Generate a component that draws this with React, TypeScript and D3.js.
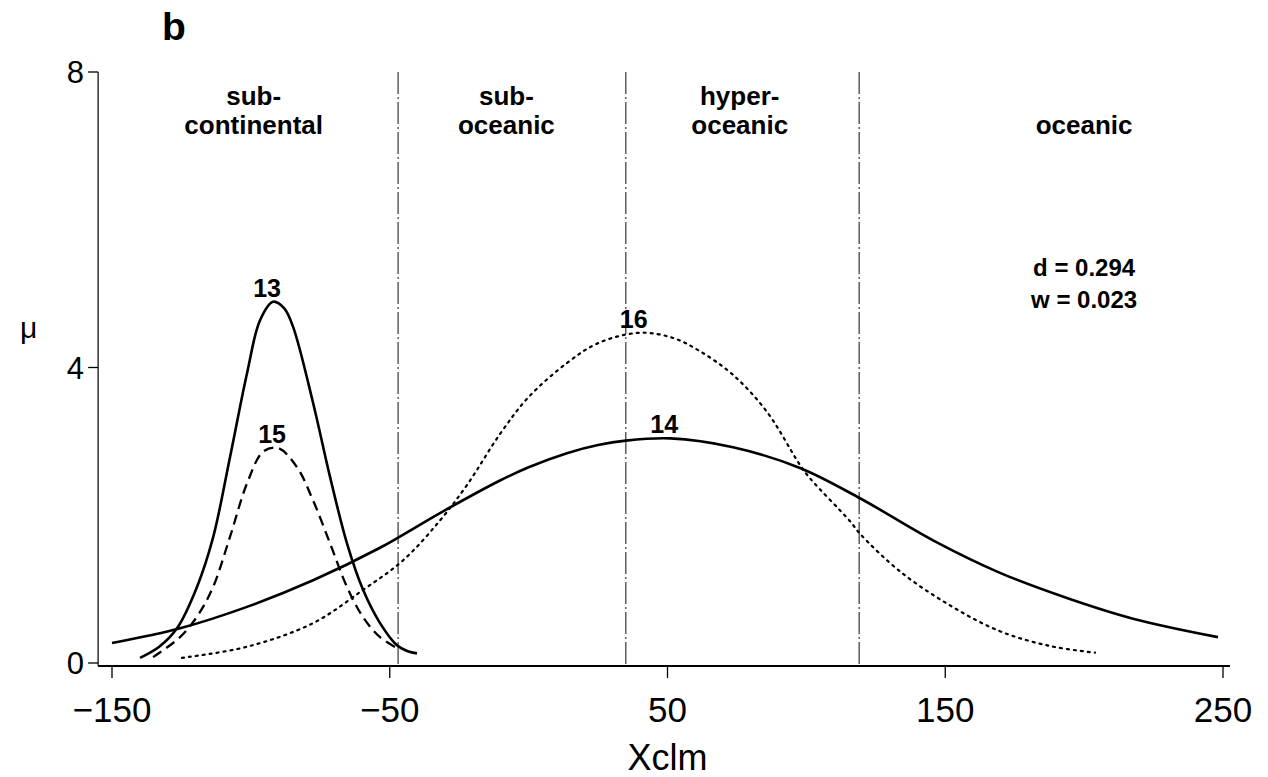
import { useEffect, useRef } from 'react';
import * as d3 from 'd3';

// readings from the figure (x = Xclm, y = mu)
const xTicks = [-150, -50, 50, 150, 250];
const yTicks = [0, 4, 8];

// zone boundaries (vertical dash-dot lines)
const zoneBounds = [-47, 35, 119];
const zoneTop = ['sub-', 'sub-', 'hyper-', ''];
const zoneBottom = ['continental', 'oceanic', 'oceanic', 'oceanic'];
const zoneCenters = [-99, -8, 76, 200];

const curve13 = [
  [-139.9, 0.07], [-133, 0.22], [-126.6, 0.47], [-119.4, 1.03], [-113.6, 1.7],
  [-107.5, 2.79], [-101.4, 3.92], [-96.7, 4.64], [-92, 4.89], [-88, 4.8],
  [-84.8, 4.55], [-77.6, 3.52], [-71.5, 2.52], [-65.4, 1.62], [-59.6, 0.99],
  [-53.5, 0.54], [-47.4, 0.24], [-43.5, 0.16], [-40.2, 0.13],
];
const curve15 = [
  [-135.2, 0.08], [-125.5, 0.35], [-119, 0.65], [-113.6, 1.03], [-107.5, 1.71],
  [-101.4, 2.43], [-95.6, 2.86], [-90.2, 2.91], [-83.4, 2.65], [-77.6, 2.2],
  [-71.5, 1.62], [-65.4, 1.03], [-59.6, 0.62], [-53.5, 0.35], [-46.3, 0.18],
];
const curve16 = [
  [-124.8, 0.07], [-101.4, 0.22], [-77.6, 0.54], [-59.6, 0.99], [-45.2, 1.39],
  [-31.9, 1.93], [-22, 2.42], [-10.3, 3.1], [0, 3.6], [13.8, 4.06], [25, 4.33],
  [40, 4.47], [52, 4.4], [61.7, 4.22], [73.6, 3.9], [85.8, 3.4], [97.7, 2.68],
  [101.3, 2.5], [115.7, 1.92], [119.3, 1.75], [133.7, 1.24], [151.7, 0.78],
  [169.7, 0.43], [187.7, 0.23], [203.9, 0.14],
];
const curve14 = [
  [-150, 0.27], [-125.5, 0.47], [-101.4, 0.76], [-77.6, 1.12], [-53.5, 1.56],
  [-31.9, 2.03], [-10.3, 2.47], [0, 2.65], [13.8, 2.84], [25, 2.95], [35, 3.01],
  [51, 3.04], [73.6, 2.92], [97.7, 2.64], [119.3, 2.23], [145.6, 1.66],
  [169.7, 1.22], [193.8, 0.88], [217.6, 0.6], [248.2, 0.35],
];

const series = [
  { name: '13', pts: curve13, dash: null, width: 2.6 },
  { name: '15', pts: curve15, dash: '10 6', width: 2.3 },
  { name: '16', pts: curve16, dash: '2 5', width: 2.2 },
  { name: '14', pts: curve14, dash: null, width: 2.6 },
];

const statLines = ['d = 0.294', 'w = 0.023'];
const statX = 200;

const W = 1268;
const H = 777;
const FONT = '"Liberation Sans", Arial, Helvetica, sans-serif';

const App = () => {
  const ref = useRef<SVGSVGElement>(null);

  useEffect(() => {
    const svg = d3.select(ref.current);
    svg.selectAll('*').remove();

    const x = d3.scaleLinear().domain([-150, 250]).range([112, 1223]);
    const y = d3.scaleLinear().domain([0, 8]).range([663, 72]);

    const axisY = y(0) + 3; // baseline sits a little under zero
    const axisX = x(-155);

    // axes
    svg.append('line')
      .attr('x1', axisX).attr('x2', x(252.5))
      .attr('y1', axisY).attr('y2', axisY)
      .attr('stroke', '#000').attr('stroke-width', 2);
    svg.append('line')
      .attr('x1', axisX).attr('x2', axisX)
      .attr('y1', y(8)).attr('y2', axisY)
      .attr('stroke', '#111').attr('stroke-width', 1.3);

    xTicks.forEach((t) => {
      svg.append('line')
        .attr('x1', x(t)).attr('x2', x(t))
        .attr('y1', axisY).attr('y2', axisY + 12)
        .attr('stroke', '#000').attr('stroke-width', 1.3);
      svg.append('text')
        .attr('x', x(t)).attr('y', axisY + 56)
        .attr('text-anchor', 'middle')
        .attr('font-family', FONT).attr('font-size', 35)
        .text(t < 0 ? `\u2212${Math.abs(t)}` : String(t));
    });

    yTicks.forEach((t) => {
      svg.append('line')
        .attr('x1', axisX - 10).attr('x2', axisX)
        .attr('y1', y(t)).attr('y2', y(t))
        .attr('stroke', '#000').attr('stroke-width', 1.3);
      svg.append('text')
        .attr('x', axisX - 14).attr('y', y(t) + 11)
        .attr('text-anchor', 'end')
        .attr('font-family', FONT).attr('font-size', 31)
        .text(String(t));
    });

    // zone boundaries
    zoneBounds.forEach((b) => {
      svg.append('line')
        .attr('x1', x(b)).attr('x2', x(b))
        .attr('y1', y(8)).attr('y2', axisY - 2)
        .attr('stroke', '#222').attr('stroke-width', 1.1)
        .attr('stroke-dasharray', '22 3 2 3');
    });

    // zone names
    zoneCenters.forEach((c, i) => {
      const g = svg.append('text')
        .attr('text-anchor', 'middle')
        .attr('font-family', FONT).attr('font-size', 26).attr('font-weight', 'bold');
      if (zoneTop[i]) {
        g.append('tspan').attr('x', x(c)).attr('y', 105).text(zoneTop[i]);
      }
      g.append('tspan').attr('x', x(c)).attr('y', 134).text(zoneBottom[i]);
    });

    // curves
    const line = d3.line<number[]>()
      .x((d) => x(d[0]))
      .y((d) => y(d[1]))
      .curve(d3.curveCatmullRom.alpha(0.5));

    series.forEach((s) => {
      const p = svg.append('path')
        .attr('d', line(s.pts))
        .attr('fill', 'none')
        .attr('stroke', '#000')
        .attr('stroke-width', s.width)
        .attr('stroke-linecap', s.dash === '2 5' ? 'round' : 'butt');
      if (s.dash) p.attr('stroke-dasharray', s.dash);

      const peak = s.pts.reduce((a, b) => (b[1] > a[1] ? b : a));
      svg.append('text')
        .attr('x', x(peak[0]) - 6).attr('y', y(peak[1]) - 5)
        .attr('text-anchor', 'middle')
        .attr('font-family', FONT).attr('font-size', 25).attr('font-weight', 'bold')
        .text(s.name);
    });

    // statistics
    statLines.forEach((s, i) => {
      svg.append('text')
        .attr('x', x(statX)).attr('y', 276 + i * 32)
        .attr('text-anchor', 'middle')
        .attr('font-family', FONT).attr('font-size', 24).attr('font-weight', 'bold')
        .text(s);
    });

    // titles
    svg.append('text')
      .attr('x', 162).attr('y', 40)
      .attr('font-family', FONT).attr('font-size', 39).attr('font-weight', 'bold')
      .text('b');
    svg.append('text')
      .attr('x', x(50)).attr('y', 770)
      .attr('text-anchor', 'middle')
      .attr('font-family', FONT).attr('font-size', 36)
      .text('Xclm');
    svg.append('text')
      .attr('x', 20).attr('y', 338)
      .attr('font-family', FONT).attr('font-size', 30)
      .text('\u03bc');
  }, []);

  return (
    <svg
      ref={ref}
      width={W}
      height={H}
      style={{ position: 'absolute', left: 0, top: 0, background: '#fff' }}
    />
  );
};

export default App;
